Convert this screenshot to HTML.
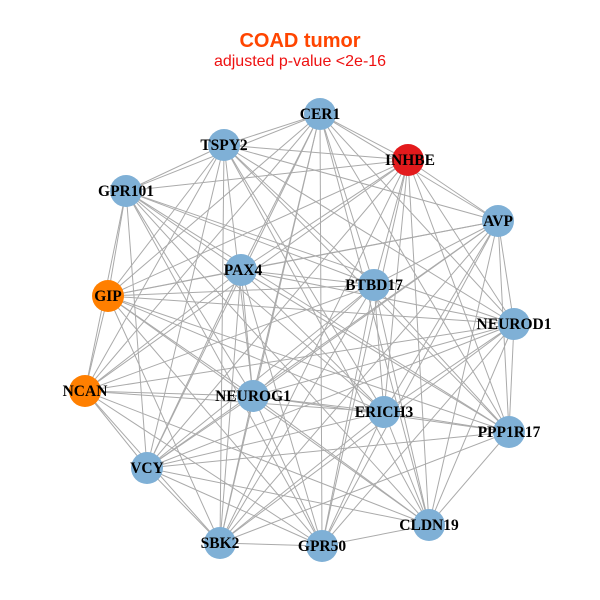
<!DOCTYPE html>
<html><head><meta charset="utf-8"><style>
html,body{margin:0;padding:0;background:#fff;}
svg{display:block;}
text.l{font-family:"Liberation Serif",serif;font-weight:bold;font-size:15.5px;fill:#000;text-anchor:middle;}
</style></head><body>
<svg id="s" width="600" height="600" viewBox="0 0 600 600">
<rect width="600" height="600" fill="#fff"/>
<text x="300" y="47" font-family="Liberation Sans, sans-serif" font-weight="bold" font-size="20" fill="#ff4500" text-anchor="middle">COAD tumor</text>
<text x="300" y="66" font-family="Liberation Sans, sans-serif" font-size="16" fill="#ee1111" text-anchor="middle">adjusted p-value &lt;2e-16</text>
<g id="edges" stroke="#aaaaaa" stroke-width="1"></g>
<g id="nodes"></g>
<g>
<text class="l" x="320" y="119">CER1</text>
<text class="l" x="224" y="150">TSPY2</text>
<text class="l" x="410" y="165">INHBE</text>
<text class="l" x="126" y="196">GPR101</text>
<text class="l" x="498" y="226">AVP</text>
<text class="l" x="243" y="275">PAX4</text>
<text class="l" x="374" y="290">BTBD17</text>
<text class="l" x="108" y="301">GIP</text>
<text class="l" x="514" y="329">NEUROD1</text>
<text class="l" x="85" y="396">NCAN</text>
<text class="l" x="253" y="401">NEUROG1</text>
<text class="l" x="384" y="417">ERICH3</text>
<text class="l" x="509" y="437">PPP1R17</text>
<text class="l" x="147" y="473">VCY</text>
<text class="l" x="429" y="530">CLDN19</text>
<text class="l" x="220" y="548">SBK2</text>
<text class="l" x="322" y="551">GPR50</text>
</g>
</svg>
<script>
var N=[[320,114,'b'],[224,145,'b'],[408,160,'r'],[126,191,'b'],[498,221,'b'],[241,270,'b'],[374,285,'b'],[108,296,'o'],[514,324,'b'],[85,391,'o'],[253,396,'b'],[384,412,'b'],[509,432,'b'],[147,468,'b'],[429,525,'b'],[220,543,'b'],[322,546,'b']];
var C={b:'#7fb0d6',r:'#e31a1c',o:'#ff7f00'};
var ns='http://www.w3.org/2000/svg',E=document.getElementById('edges'),G=document.getElementById('nodes');
for(var i=0;i<N.length;i++)for(var j=i+1;j<N.length;j++){
 if((i*7+j*3)%11==0)continue;
 var l=document.createElementNS(ns,'line');
 l.setAttribute('x1',N[i][0]);l.setAttribute('y1',N[i][1]);l.setAttribute('x2',N[j][0]);l.setAttribute('y2',N[j][1]);E.appendChild(l);}
N.forEach(function(n){var c=document.createElementNS(ns,'circle');c.setAttribute('cx',n[0]);c.setAttribute('cy',n[1]);c.setAttribute('r',16);c.setAttribute('fill',C[n[2]]);G.appendChild(c);});
</script>
</body></html>
